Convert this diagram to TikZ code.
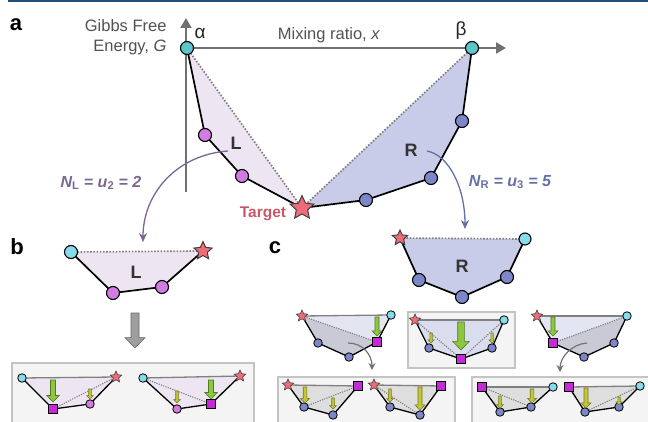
\documentclass[tikz,border=0pt]{standalone}
\usepackage{fontspec}
\setmainfont{Liberation Sans}
\setsansfont{Liberation Sans}
\usepackage{tikz}
\usetikzlibrary{arrows.meta, positioning, shapes.geometric, backgrounds}

\definecolor{topbar}{HTML}{1F4E79}
\definecolor{axisgray}{HTML}{707070}
\definecolor{tealpt}{HTML}{5CC6CA}
\definecolor{cyanpt}{HTML}{86DCEA}
\definecolor{pinkpt}{HTML}{D27BE0}
\definecolor{bluept}{HTML}{7D86C6}
\definecolor{starred}{HTML}{EE6B78}
\definecolor{sqmag}{HTML}{C62AD6}
\definecolor{lfill}{HTML}{EDE6F2}
\definecolor{rfill}{HTML}{C8CCE8}
\definecolor{rlight}{HTML}{E3E5F3}
\definecolor{rmid}{HTML}{DADDEE}
\definecolor{rgray}{HTML}{C9CAD6}
\definecolor{gfill}{HTML}{DEDEDE}
\definecolor{boxfill}{HTML}{F4F4F4}
\definecolor{boxline}{HTML}{C4C4C4}
\definecolor{greenfill}{HTML}{8DC63F}
\definecolor{greenline}{HTML}{4F7A1E}
\definecolor{olivefill}{HTML}{C3C63A}
\definecolor{oliveline}{HTML}{75781C}
\definecolor{lcol}{HTML}{7A6690}
\definecolor{rcol}{HTML}{6670A8}
\definecolor{targetcol}{HTML}{C85868}

\tikzset{
  pt/.style={circle, draw=black, line width=1.1pt, inner sep=0pt, minimum size=13pt},
  tealdot/.style={pt, fill=tealpt},
  cyandot/.style={pt, fill=cyanpt},
  pinkdot/.style={pt, fill=pinkpt},
  bluedot/.style={pt, fill=bluept},
  minidot/.style={minimum size=8.5pt, line width=0.8pt},
  target/.style={star, star points=5, star point ratio=2.1, draw=black!75, line width=1pt, fill=starred, inner sep=0pt},
  ministar/.style={target, minimum size=12pt, line width=0.6pt},
  sqr/.style={rectangle, draw=black, line width=0.8pt, fill=sqmag, inner sep=0pt, minimum size=8.5pt},
  hull/.style={black, line width=1.7pt, line join=round},
  minihull/.style={black, line width=1.3pt, line join=round},
  tie/.style={black!50, line width=1.7pt, dash pattern=on 1.6pt off 1.6pt},
  minitie/.style={black!50, line width=1.1pt, dash pattern=on 1.2pt off 1.2pt},
  topline/.style={black!50, line width=1.3pt},
  axisline/.style={axisgray, line width=2pt, -{Triangle[length=10pt, width=11pt]}},
  panelbox/.style={draw=boxline, line width=1.5pt, fill=boxfill},
  panel/.style={font=\bfseries\fontsize{22}{22}\selectfont},
  axislab/.style={text=black!68, font=\fontsize{16.5}{19.5}\selectfont},
  greek/.style={text=black!85, font=\fontsize{19}{19}\selectfont},
  reglab/.style={text=black!80, font=\bfseries\fontsize{18}{18}\selectfont},
  nlab/.style={font=\bfseries\itshape\fontsize{16}{16}\selectfont},
  splitarrow/.style={line width=1.3pt, -{Stealth[length=9pt, width=8pt]}},
  bentarrow/.style={black!55, line width=1.2pt, -{Stealth[length=7pt, width=7pt]}},
  greenarr/.style={fill=greenfill, draw=greenline},
  olivearr/.style={fill=olivefill, draw=oliveline},
  pics/downarrow/.style n args={3}{code={
    \filldraw[#3, line width=0.6pt] ({-#2},0) -- ({#2},0) -- ({#2},{#1-2.6*#2})
      -- ({2.5*#2},{#1-2.6*#2}) -- (0,{#1}) -- ({-2.5*#2},{#1-2.6*#2})
      -- ({-#2},{#1-2.6*#2}) -- cycle;}},
}

\begin{document}
\begin{tikzpicture}[x=1pt, y=-1pt]
  \useasboundingbox (0,0) rectangle (648,422);
  \fill[topbar] (8,0) rectangle (648,2.2);

  % panel a: free energy curve
  \node[panel] (pa) at (16,25) {a};
  \node[tealdot] (alpha) at (187,48) {};
  \node[tealdot] (beta) at (472,48) {};
  \node[pinkdot] (l1) at (205,135) {};
  \node[pinkdot] (l2) at (242,176) {};
  \node[bluedot] (r1) at (366,200) {};
  \node[bluedot] (r2) at (431,178) {};
  \node[bluedot] (r3) at (462,121) {};
  \node[target, minimum size=25pt] (tgt) at (302,208) {};
  \coordinate (yfoot) at (186,192);
  \coordinate (ytip) at (186,18);
  \coordinate (xtip) at (506,48);
  \begin{scope}[on background layer]
    \draw[axisline] (yfoot) -- (ytip);
    \draw[axisline] (alpha.center) -- (xtip);
    \fill[lfill] (alpha.center) -- (l1.center) -- (l2.center) -- (tgt.center) -- cycle;
    \fill[rfill] (tgt.center) -- (r1.center) -- (r2.center) -- (r3.center) -- (beta.center) -- cycle;
    \draw[tie] (alpha.center) -- (tgt.center) -- (beta.center);
    \draw[hull] (alpha.center) -- (l1.center) -- (l2.center) -- (tgt.center)
      -- (r1.center) -- (r2.center) -- (r3.center) -- (beta.center);
  \end{scope}
  \node[axislab, align=right, anchor=east] (gibbs) at (170,37) {Gibbs Free\\Energy, \textit{G}};
  \node[axislab] (mix) at (329,35) {Mixing ratio, \textit{x}};
  \node[greek] (alab) at (200,33) {α};
  \node[greek] (blab) at (461,31) {β};
  \node[reglab] (Llab) at (236,143) {L};
  \node[reglab] (Rlab) at (411,150) {R};
  \node[text=targetcol, font=\bfseries\fontsize{15.5}{15.5}\selectfont] (tname) at (263,214) {Target};
  \node[nlab, text=lcol] (nl) at (101,183) {N\textsubscript{\upshape L} = u\textsubscript{\upshape 2} = 2};
  \node[nlab, text=rcol] (nr) at (510,182) {N\textsubscript{\upshape R} = u\textsubscript{\upshape 3} = 5};
  \coordinate (lstart) at (228,151);
  \coordinate (lend) at (143,242);
  \coordinate (rstart) at (427,151);
  \coordinate (rend) at (465,229);
  \draw[splitarrow, lcol] (lstart) .. controls (175,155) and (143,195) .. (lend);
  \draw[splitarrow, rcol] (rstart) .. controls (449,155) and (465,188) .. (rend);

  % panel b: left part
  \node[panel] (pb) at (17,247) {b};
  \node[cyandot] (bA) at (71,252) {};
  \node[pinkdot] (bP1) at (113,293) {};
  \node[pinkdot] (bP2) at (162,287) {};
  \node[target, minimum size=19pt] (bS) at (203,251) {};
  \node[reglab] (bL) at (136,272) {L};
  \begin{scope}[on background layer]
    \fill[lfill] (bA.center) -- (bP1.center) -- (bP2.center) -- (bS.center) -- cycle;
    \draw[tie] (bA.center) -- (bS.center);
    \draw[hull] (bA.center) -- (bP1.center) -- (bP2.center) -- (bS.center);
    \draw[panelbox] (12,363) rectangle (254,440);
  \end{scope}
  \pic at (135,313) {downarrow={35}{4}{fill=black!38, draw=black!60}};

  \node[cyandot, minidot] (b1a) at (22,378) {};
  \node[ministar] (b1s) at (116,377) {};
  \node[sqr] (b1q) at (53,409) {};
  \node[pinkdot, minidot] (b1p) at (90,404) {};
  \node[cyandot, minidot] (b2a) at (143,378) {};
  \node[ministar] (b2s) at (240,376) {};
  \node[pinkdot, minidot] (b2p) at (177,409) {};
  \node[sqr] (b2q) at (211,404) {};
  \begin{scope}[on background layer]
    \fill[lfill] (b1a.center) -- (b1q.center) -- (b1p.center) -- (b1s.center) -- cycle;
    \draw[topline] (b1a.center) -- (b1s.center);
    \draw[minitie] (b1q.center) -- (b1s.center);
    \draw[minihull] (b1a.center) -- (b1q.center) -- (b1p.center) -- (b1s.center);
    \fill[lfill] (b2a.center) -- (b2p.center) -- (b2q.center) -- (b2s.center) -- cycle;
    \draw[topline] (b2a.center) -- (b2s.center);
    \draw[minitie] (b2a.center) -- (b2q.center);
    \draw[minihull] (b2a.center) -- (b2p.center) -- (b2q.center) -- (b2s.center);
  \end{scope}
  \pic at (53,380) {downarrow={22}{2.5}{greenarr}};
  \pic at (90,389) {downarrow={10}{1.3}{olivearr}};
  \pic at (211,380) {downarrow={19}{2.5}{greenarr}};
  \pic at (177,391) {downarrow={12}{1.3}{olivearr}};

  % panel c: right part
  \node[panel] (pc) at (275,248) {c};
  \node[target, minimum size=16pt] (cS) at (400,238) {};
  \node[cyandot, minimum size=12pt] (cA) at (525,239) {};
  \node[bluedot] (cB1) at (419,280) {};
  \node[bluedot] (cB2) at (462,297) {};
  \node[bluedot] (cB3) at (507,277) {};
  \node[reglab] (cR) at (462,266) {R};
  \begin{scope}[on background layer]
    \fill[rfill] (cS.center) -- (cB1.center) -- (cB2.center) -- (cB3.center) -- (cA.center) -- cycle;
    \draw[tie] (cS.center) -- (cA.center);
    \draw[hull] (cS.center) -- (cB1.center) -- (cB2.center) -- (cB3.center) -- (cA.center);
    \draw[panelbox] (408,312) rectangle (515,368);
    \draw[panelbox] (278,377) rectangle (455,440);
    \draw[panelbox] (472,377) rectangle (660,440);
  \end{scope}

  % second row
  \node[ministar] (k1s) at (302,316) {};
  \node[cyandot, minidot] (k1a) at (391,315) {};
  \node[bluedot, minidot] (k1b) at (318,343) {};
  \node[bluedot, minidot] (k1c) at (349,357) {};
  \node[sqr] (k1q) at (377,342) {};
  \node[ministar] (k2s) at (415,320) {};
  \node[cyandot, minidot] (k2a) at (504,320) {};
  \node[bluedot, minidot] (k2b) at (429,348) {};
  \node[sqr] (k2q) at (461,359) {};
  \node[bluedot, minidot] (k2c) at (492,348) {};
  \node[ministar] (k3s) at (537,316) {};
  \node[cyandot, minidot] (k3a) at (627,316) {};
  \node[sqr] (k3q) at (553,343) {};
  \node[bluedot, minidot] (k3b) at (584,357) {};
  \node[bluedot, minidot] (k3c) at (614,343) {};
  \begin{scope}[on background layer]
    \fill[rlight] (k1s.center) -- (k1a.center) -- (k1q.center) -- cycle;
    \fill[rgray] (k1s.center) -- (k1b.center) -- (k1c.center) -- (k1q.center) -- cycle;
    \draw[topline] (k1s.center) -- (k1a.center);
    \draw[minitie] (k1s.center) -- (k1q.center);
    \draw[minihull] (k1s.center) -- (k1b.center) -- (k1c.center) -- (k1q.center) -- (k1a.center);
    \fill[rmid] (k2s.center) -- (k2b.center) -- (k2q.center) -- (k2c.center) -- (k2a.center) -- cycle;
    \draw[topline] (k2s.center) -- (k2a.center);
    \draw[minitie] (k2s.center) -- (k2q.center) -- (k2a.center);
    \draw[minihull] (k2s.center) -- (k2b.center) -- (k2q.center) -- (k2c.center) -- (k2a.center);
    \fill[rlight] (k3s.center) -- (k3q.center) -- (k3a.center) -- cycle;
    \fill[rgray] (k3q.center) -- (k3b.center) -- (k3c.center) -- (k3a.center) -- cycle;
    \draw[topline] (k3s.center) -- (k3a.center);
    \draw[minitie] (k3q.center) -- (k3a.center);
    \draw[minihull] (k3s.center) -- (k3q.center) -- (k3b.center) -- (k3c.center) -- (k3a.center);
  \end{scope}
  \pic at (377,317) {downarrow={19}{2}{greenarr}};
  \pic at (461,322) {downarrow={28}{3.3}{greenarr}};
  \pic at (431,333) {downarrow={10}{1.2}{olivearr}};
  \pic at (492,333) {downarrow={10}{1.2}{olivearr}};
  \pic at (553,317) {downarrow={19}{2}{greenarr}};
  \coordinate (k1from) at (348,343);
  \coordinate (k1to) at (372,370);
  \coordinate (k3from) at (587,343);
  \coordinate (k3to) at (560,372);
  \draw[bentarrow] (k1from) .. controls (363,343) and (372,355) .. (k1to);
  \draw[bentarrow] (k3from) .. controls (572,344) and (560,357) .. (k3to);

  % third row
  \node[ministar] (j1s) at (288,385) {};
  \node[bluedot, minidot] (j1b) at (304,407) {};
  \node[bluedot, minidot] (j1c) at (333,415) {};
  \node[sqr] (j1q) at (358,386) {};
  \node[ministar] (j2s) at (374,385) {};
  \node[bluedot, minidot] (j2b) at (390,407) {};
  \node[bluedot, minidot] (j2c) at (420,415) {};
  \node[sqr] (j2q) at (441,386) {};
  \node[sqr] (j3q) at (482,387) {};
  \node[bluedot, minidot] (j3b) at (500,412) {};
  \node[bluedot, minidot] (j3c) at (531,407) {};
  \node[cyandot, minidot] (j3a) at (553,387) {};
  \node[sqr] (j4q) at (569,387) {};
  \node[bluedot, minidot] (j4b) at (585,412) {};
  \node[bluedot, minidot] (j4c) at (619,407) {};
  \node[cyandot, minidot] (j4a) at (640,386) {};
  \begin{scope}[on background layer]
    \fill[gfill] (j1s.center) -- (j1b.center) -- (j1c.center) -- (j1q.center) -- cycle;
    \draw[topline] (j1s.center) -- (j1q.center);
    \draw[minitie] (j1b.center) -- (j1q.center);
    \draw[minihull] (j1s.center) -- (j1b.center) -- (j1c.center) -- (j1q.center);
    \fill[gfill] (j2s.center) -- (j2b.center) -- (j2c.center) -- (j2q.center) -- cycle;
    \draw[topline] (j2s.center) -- (j2q.center);
    \draw[minitie] (j2s.center) -- (j2c.center);
    \draw[minihull] (j2s.center) -- (j2b.center) -- (j2c.center) -- (j2q.center);
    \fill[gfill] (j3q.center) -- (j3b.center) -- (j3c.center) -- (j3a.center) -- cycle;
    \draw[topline] (j3q.center) -- (j3a.center);
    \draw[minitie] (j3q.center) -- (j3c.center);
    \draw[minihull] (j3q.center) -- (j3b.center) -- (j3c.center) -- (j3a.center);
    \fill[gfill] (j4q.center) -- (j4b.center) -- (j4c.center) -- (j4a.center) -- cycle;
    \draw[topline] (j4q.center) -- (j4a.center);
    \draw[minitie] (j4b.center) -- (j4a.center);
    \draw[minihull] (j4q.center) -- (j4b.center) -- (j4c.center) -- (j4a.center);
  \end{scope}
  \pic at (305,387) {downarrow={16}{1.8}{olivearr}};
  \pic at (333,398) {downarrow={11}{1.3}{olivearr}};
  \pic at (390,389) {downarrow={13}{1.3}{olivearr}};
  \pic at (420,387) {downarrow={23}{2}{olivearr}};
  \pic at (500,396) {downarrow={12}{1.3}{olivearr}};
  \pic at (532,389) {downarrow={14}{1.8}{olivearr}};
  \pic at (586,388) {downarrow={20}{2}{olivearr}};
  \pic at (619,397) {downarrow={8}{1.2}{olivearr}};
\end{tikzpicture}
\end{document}
